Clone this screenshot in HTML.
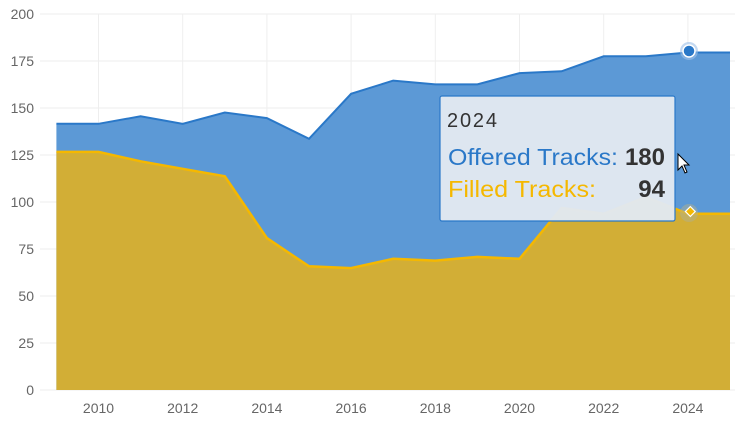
<!DOCTYPE html>
<html><head><style>
html,body{margin:0;padding:0;background:#fff;}
svg{display:block;font-family:"Liberation Sans",sans-serif;}
</style></head><body>
<svg width="749" height="421" viewBox="0 0 749 421">
<g stroke="#eeeeee" stroke-width="1">
<line x1="40" x2="735" y1="14" y2="14"/><line x1="40" x2="735" y1="61" y2="61"/>
<line x1="40" x2="735" y1="108" y2="108"/><line x1="40" x2="735" y1="155" y2="155"/>
<line x1="40" x2="735" y1="202" y2="202"/><line x1="40" x2="735" y1="249" y2="249"/>
<line x1="40" x2="735" y1="296" y2="296"/><line x1="40" x2="735" y1="343" y2="343"/>
<line x1="40" x2="735" y1="390" y2="390"/>
<line x1="98.5" x2="98.5" y1="14" y2="390"/><line x1="182.7" x2="182.7" y1="14" y2="390"/>
<line x1="266.9" x2="266.9" y1="14" y2="390"/><line x1="351.1" x2="351.1" y1="14" y2="390"/>
<line x1="435.3" x2="435.3" y1="14" y2="390"/><line x1="519.5" x2="519.5" y1="14" y2="390"/>
<line x1="603.7" x2="603.7" y1="14" y2="390"/><line x1="687.9" x2="687.9" y1="14" y2="390"/>
</g>
<g fill="#666" font-size="14" text-anchor="end">
<text x="34" y="19">200</text><text x="34" y="66">175</text><text x="34" y="113">150</text>
<text x="34" y="160">125</text><text x="34" y="207">100</text><text x="34" y="254">75</text>
<text x="34" y="301">50</text><text x="34" y="348">25</text><text x="34" y="395">0</text>
</g>
<g fill="#666" font-size="14" text-anchor="middle">
<text x="98.5" y="413">2010</text><text x="182.7" y="413">2012</text><text x="266.9" y="413">2014</text>
<text x="351.1" y="413">2016</text><text x="435.3" y="413">2018</text><text x="519.5" y="413">2020</text>
<text x="603.7" y="413">2022</text><text x="687.9" y="413">2024</text>
</g>
<path d="M56.4,123.8 L98.5,123.8 L140.6,116.3 L182.7,123.8 L224.8,112.5 L266.9,118.1 L309,138.8 L351.1,93.8 L393.2,80.6 L435.3,84.4 L477.4,84.4 L519.5,73.1 L561.6,71.3 L603.7,56.3 L645.8,56.3 L687.9,52.5 L730,52.5 L730,390 L56.4,390Z" fill="#5c99d6"/>
<path d="M56.4,123.8 L98.5,123.8 L140.6,116.3 L182.7,123.8 L224.8,112.5 L266.9,118.1 L309,138.8 L351.1,93.8 L393.2,80.6 L435.3,84.4 L477.4,84.4 L519.5,73.1 L561.6,71.3 L603.7,56.3 L645.8,56.3 L687.9,52.5 L730,52.5" fill="none" stroke="#2a78c8" stroke-width="2"/>
<path d="M56.4,151.9 L98.5,151.9 L140.6,161.3 L182.7,168.8 L224.8,176.3 L266.9,238.1 L309,266.3 L351.1,268.1 L393.2,258.8 L435.3,260.6 L477.4,256.9 L519.5,258.8 L561.6,208 L603.7,213.8 L645.8,197 L687.9,213.8 L730,213.8 L730,390 L56.4,390Z" fill="#d2ae36"/>
<path d="M56.4,151.9 L98.5,151.9 L140.6,161.3 L182.7,168.8 L224.8,176.3 L266.9,238.1 L309,266.3 L351.1,268.1 L393.2,258.8 L435.3,260.6 L477.4,256.9 L519.5,258.8 L561.6,208 L603.7,213.8 L645.8,197 L687.9,213.8 L730,213.8" fill="none" stroke="#f5b800" stroke-width="2.5"/>
<circle cx="689" cy="51" r="9" fill="#9cc0e8" opacity="0.6"/>
<circle cx="689" cy="51" r="6" fill="#2a78c8" stroke="#fff" stroke-width="1.5"/>
<circle cx="689" cy="213" r="9" fill="#b0b090" opacity="0.5"/>
<rect x="684" y="208" width="7" height="7" transform="rotate(45 687.5 211.5) translate(2 -2)" fill="#f5b800" stroke="#fff" stroke-width="1.2"/>
<rect x="440" y="96" width="235" height="125" rx="2" fill="#e1e8f1" fill-opacity="0.97" stroke="#2a78c8" stroke-width="1.2"/>
<text x="447" y="127" font-size="20" fill="#333" textLength="50">2024</text>
<text x="448" y="165" font-size="23" fill="#2a78c8" textLength="170" lengthAdjust="spacingAndGlyphs">Offered Tracks:</text>
<text x="665" y="165" font-size="24" fill="#333" font-weight="bold" text-anchor="end">180</text>
<text x="448" y="197" font-size="23" fill="#f5b800" textLength="148" lengthAdjust="spacingAndGlyphs">Filled Tracks:</text>
<text x="665" y="197" font-size="24" fill="#333" font-weight="bold" text-anchor="end">94</text>
<path d="M678,154 L678,170 L682,166 L685,173 L687,172 L684,165 L689,165Z" fill="#fff" stroke="#000" stroke-width="1"/>
</svg>
</body></html>
